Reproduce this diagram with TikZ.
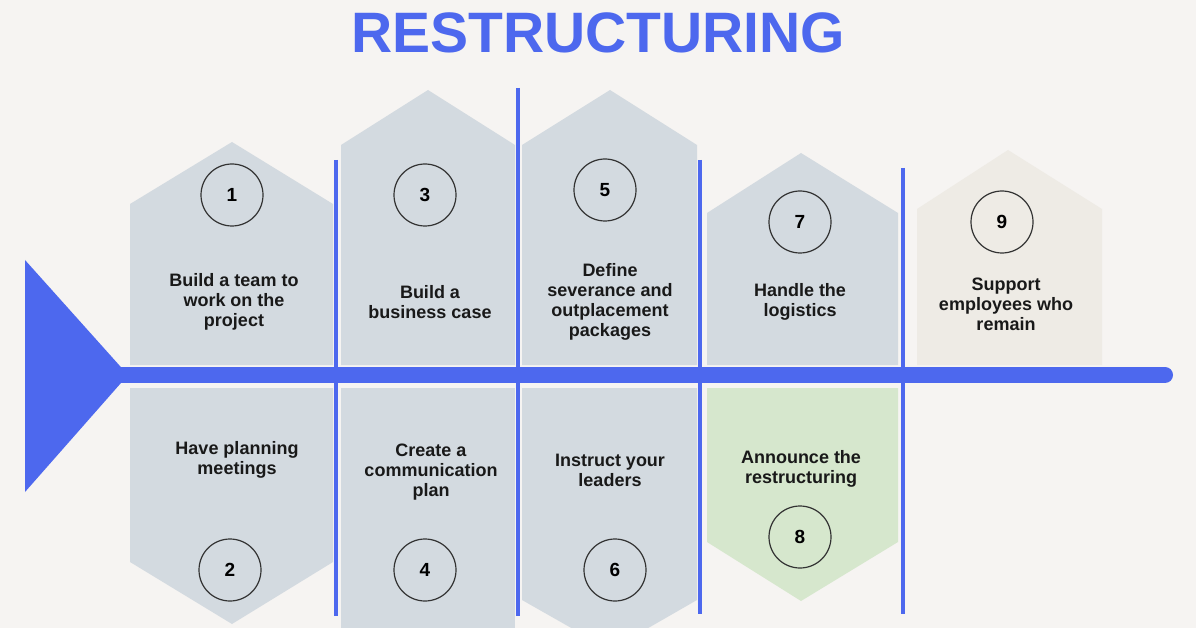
\documentclass[tikz,border=0pt]{standalone}
\usepackage{fontspec}
\setmainfont{Liberation Sans}
\definecolor{bg}{HTML}{F6F4F2}
\definecolor{hexg}{HTML}{D3DAE0}
\definecolor{hexgr}{HTML}{D6E7CD}
\definecolor{hexb}{HTML}{EEEBE5}
\definecolor{blu}{HTML}{4D68EE}
\begin{document}
\begin{tikzpicture}[x=1pt,y=-1pt,
  num/.style={circle,draw=black!80,line width=1.2pt,minimum size=62pt,inner sep=0pt,font=\fontsize{19}{19}\selectfont\bfseries},
  lbl/.style={align=center,font=\fontsize{18}{20}\selectfont\bfseries,text=black!90},
  vline/.style={draw=blu,line width=4.5pt}]
\useasboundingbox (0,0) rectangle (1196,628);
\fill[bg] (0,0) rectangle (1196,628);
\node[font=\fontsize{57}{57}\selectfont\bfseries,text=blu] (title) at (598,33) {RESTRUCTURING};
% hexagon halves
\fill[hexg] (130,365) -- (130,204) -- (232,142) -- (333,204) -- (333,365) -- cycle;
\fill[hexg] (130,388) -- (130,562) -- (232,624) -- (333,562) -- (333,388) -- cycle;
\fill[hexg] (341,365) -- (341,145) -- (428,90) -- (515,145) -- (515,365) -- cycle;
\fill[hexg] (341,388) -- (341,640) -- (515,640) -- (515,388) -- cycle;
\fill[hexg] (522,365) -- (522,145) -- (610,90) -- (697,145) -- (697,365) -- cycle;
\fill[hexg] (522,388) -- (522,600) -- (610,650) -- (697,600) -- (697,388) -- cycle;
\fill[hexg] (707,365) -- (707,213) -- (801,153) -- (898,213) -- (898,365) -- cycle;
\fill[hexgr] (707,388) -- (707,542) -- (801,601) -- (898,542) -- (898,388) -- cycle;
\fill[hexb] (917,365) -- (917,209) -- (1008,150) -- (1102,209) -- (1102,365) -- cycle;
% blue lines
\coordinate (a1) at (336,160); \coordinate (a2) at (336,616);
\coordinate (b1) at (518,88); \coordinate (b2) at (518,616);
\coordinate (c1) at (700,160); \coordinate (c2) at (700,614);
\coordinate (d1) at (903,168); \coordinate (d2) at (903,614);
\draw[vline] (a1) -- (a2); \draw[vline] (b1) -- (b2);
\draw[vline] (c1) -- (c2); \draw[vline] (d1) -- (d2);
\fill[blu] (25,260) -- (128,375) -- (25,492) -- cycle;
\coordinate (s1) at (120,375); \coordinate (s2) at (1165,375);
\draw[blu,line width=16pt,line cap=round] (s1) -- (s2);
% numbers
\node[num] (n1) at (232,195) {1};
\node[num] (n3) at (425,195) {3};
\node[num] (n5) at (605,190) {5};
\node[num] (n7) at (800,222) {7};
\node[num] (n9) at (1002,222) {9};
\node[num] (n2) at (230,570) {2};
\node[num] (n4) at (425,570) {4};
\node[num] (n6) at (615,570) {6};
\node[num] (n8) at (800,537) {8};
% labels
\node[lbl] (t1) at (234,302) {Build a team to\\work on the\\project};
\node[lbl] (t3) at (430,302) {Build a\\business case};
\node[lbl] (t5) at (610,302) {Define\\severance and\\outplacement\\packages};
\node[lbl] (t7) at (800,302) {Handle the\\logistics};
\node[lbl] (t9) at (1006,304) {Support\\employees who\\remain};
\node[lbl] (t2) at (237,460) {Have planning\\meetings};
\node[lbl] (t4) at (431,472) {Create a\\communication\\plan};
\node[lbl] (t6) at (610,470) {Instruct your\\leaders};
\node[lbl] (t8) at (801,469) {Announce the\\restructuring};
\end{tikzpicture}
\end{document}
